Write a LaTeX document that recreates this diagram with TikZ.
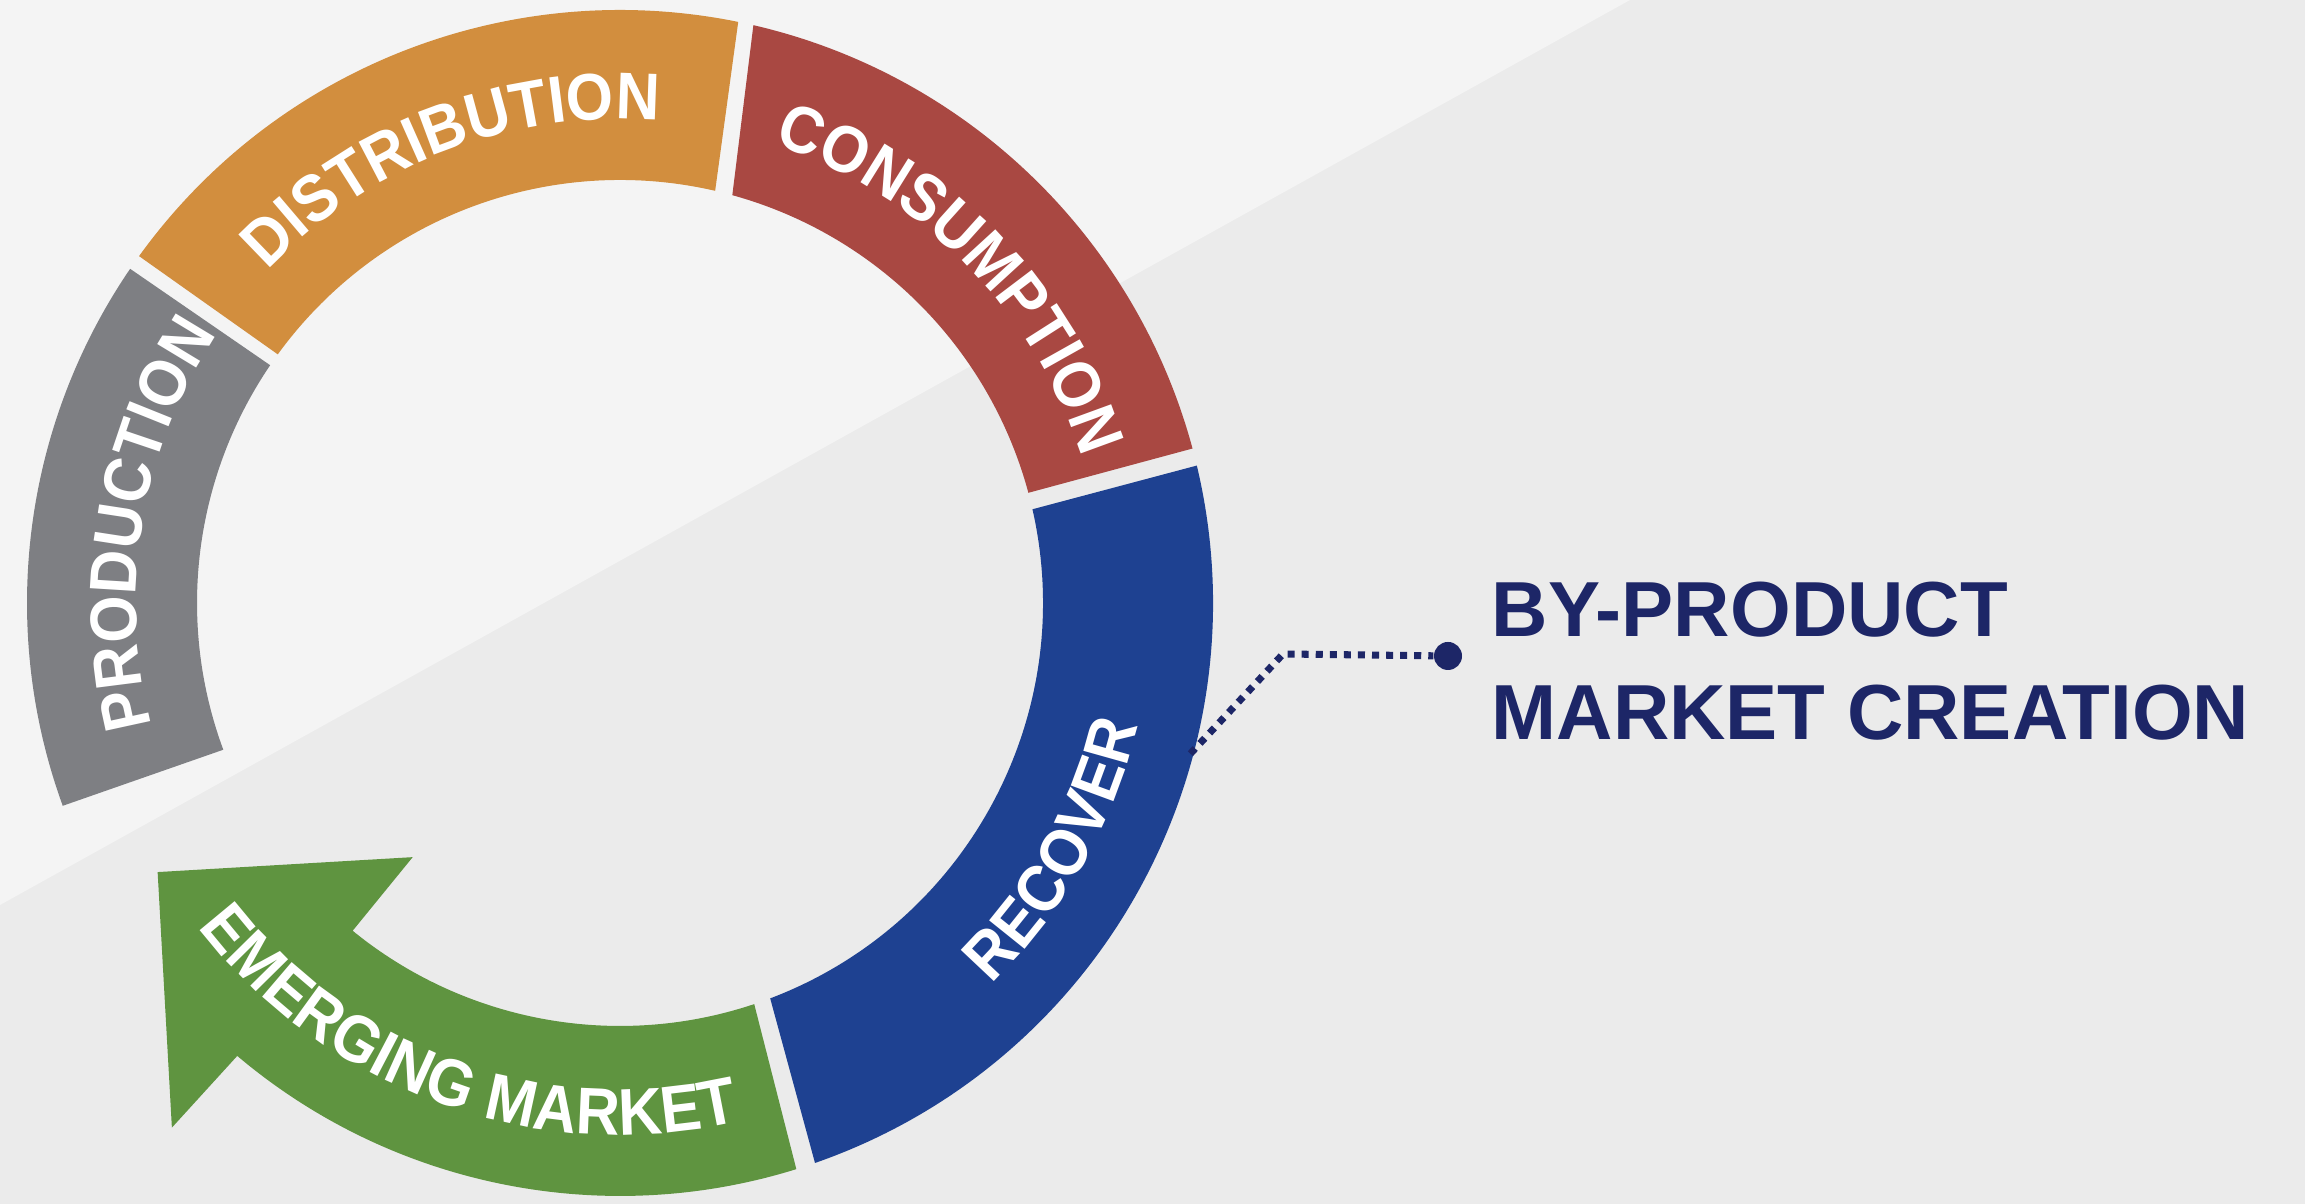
\documentclass[tikz,border=0pt]{standalone}
\usepackage{fontspec}
\setmainfont{Liberation Sans}
\newfontfamily\ringfont[FakeStretch=0.92]{Liberation Sans Bold}
\usetikzlibrary{calc, positioning}
\usetikzlibrary{decorations.text}

\definecolor{bglight}{HTML}{F4F4F4}
\definecolor{bgdark}{HTML}{EBEBEB}
\definecolor{prodgray}{HTML}{7E7F83}
\definecolor{distorange}{HTML}{D28E3E}
\definecolor{consred}{HTML}{A94842}
\definecolor{recblue}{HTML}{1E4191}
\definecolor{emgreen}{HTML}{5F9440}
\definecolor{navy}{HTML}{1D2667}

\newcommand{\ringtext}{\ringfont\fontsize{18.8pt}{20pt}\selectfont\color{white}}

\begin{document}
\begin{tikzpicture}[x=0.01cm, y=0.01cm,
  dotline/.style={draw=navy, line width=2pt, dash pattern=on 2pt off 2pt},
  ringlabel/.style={decorate, decoration={text along path, text align=center, text={|\ringtext|#1}}}]
\fill[bgdark] (0,0) rectangle (2305,1204);
\fill[bglight] (0,299) -- (1630,1204) -- (0,1204) -- cycle;
\useasboundingbox (0,0) rectangle (2305,1204);

\begin{scope}[shift={(620,601)}]
\foreach \col/\os/\oe/\ie/\is in {prodgray/200/145.7/145.8/200.3, distorange/144.2/78.5/77/144,
    consred/77/15.1/15.1/74.6, recblue/13.4/-70.8/-69.2/12.8} {
  \fill[\col] (\os:593) arc[start angle=\os, end angle=\oe, radius=593]
    -- (\ie:423) arc[start angle=\ie, end angle=\is, radius=423] -- cycle;
}
\fill[emgreen] (-72.7:593) arc[start angle=-72.7, end angle=-130.2, radius=593]
  -- (-130.5:690) -- (-149.8:535) -- (-129.2:328) -- (-129.2:423)
  arc[start angle=-129.2, end angle=-71.5, radius=423] -- cycle;

\path[ringlabel=PRODUCTION] (210.5:484) arc[start angle=210.5, end angle=130.5, radius=484];
\path[ringlabel=DISTRIBUTION] (151:484) arc[start angle=151, end angle=71, radius=484];
\path[ringlabel=CONSUMPTION] (84.5:484) arc[start angle=84.5, end angle=4.5, radius=484];
\path[ringlabel=RECOVER] (-69.5:532) arc[start angle=-69.5, end angle=10.5, radius=532];
\path[ringlabel=EMERGING MARKET] (-159.75:532) arc[start angle=-159.75, end angle=-59.75, radius=532];

\coordinate (tap) at (-14.8:590);
\end{scope}

\node[font=\fontsize{22.2pt}{29.3pt}\selectfont\bfseries, text=navy, align=left,
  anchor=base west, inner sep=0pt] (byprod) at (1491,464) {BY-PRODUCT\\MARKET CREATION};
\node[circle, fill=navy, minimum size=0.28cm, inner sep=0pt] (dot) at (1448,548) {};
\coordinate (bend) at (1283,550);
\draw[dotline] (tap) -- (bend) -- (dot);
\end{tikzpicture}
\end{document}
